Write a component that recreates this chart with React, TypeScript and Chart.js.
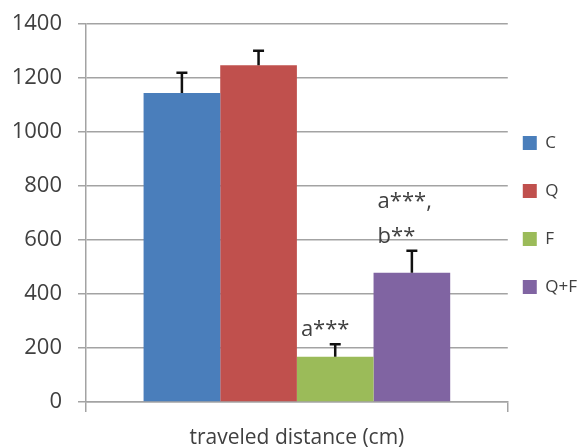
import React, { useEffect, useRef } from "react";
import { Chart, registerables } from "chart.js";

Chart.register(...registerables);

const categories = [""];
const seriesLabels = ["C", "Q", "F", "Q+F"];
const seriesValues = [1143, 1246, 167, 478];
const seriesErrors = [75, 53, 47, 81];
const seriesColors = ["#4a7ebb", "#c0504d", "#9bbb59", "#8064a2"];
const significance: string[][] = [[], [], ["a***"], ["a***,", "b**"]];
const yTicks = [0, 200, 400, 600, 800, 1000, 1200, 1400];
const xTitle = "traveled distance (cm)";

const FONT = "'Open Sans', sans-serif";
const TEXT = "#404040";
const GRID = "#a3a3a3";

const errorBarPlugin = {
  id: "errorBars",
  afterDatasetsDraw(chart: any) {
    const ctx = chart.ctx;
    const yScale = chart.scales.y;
    ctx.save();
    chart.data.datasets.forEach((ds: any, i: number) => {
      const meta = chart.getDatasetMeta(i);
      const el: any = meta.data[0];
      if (!el) return;
      const v = seriesValues[i];
      const e = seriesErrors[i];
      const yTop = yScale.getPixelForValue(v + e);
      const yBar = el.y;
      ctx.strokeStyle = "#111";
      ctx.lineWidth = 2.5;
      ctx.beginPath();
      ctx.moveTo(el.x, yBar);
      ctx.lineTo(el.x, yTop);
      ctx.moveTo(el.x - 5.5, yTop);
      ctx.lineTo(el.x + 5.5, yTop);
      ctx.stroke();
      const lines = significance[i];
      if (lines && lines.length) {
        ctx.fillStyle = TEXT;
        ctx.font = `22px ${FONT}`;
        ctx.textAlign = "left";
        ctx.textBaseline = "alphabetic";
        const left = el.x - el.width / 2 + 4;
        const n = lines.length;
        lines.forEach((t, k) => {
          ctx.fillText(t, left, yTop - 8 - (n - 1 - k) * 35);
        });
      }
    });
    ctx.restore();
  },
};

export default function App() {
  const ref = useRef<HTMLCanvasElement | null>(null);
  useEffect(() => {
    if (!ref.current) return;
    const chart = new Chart(ref.current, {
      type: "bar",
      data: {
        labels: categories,
        datasets: seriesLabels.map((label, i) => ({
          label,
          data: [seriesValues[i]],
          backgroundColor: seriesColors[i],
          borderWidth: 0,
          barPercentage: 1,
          categoryPercentage: 0.727,
        })),
      },
      options: {
        animation: false,
        responsive: false,
        maintainAspectRatio: false,
        layout: { padding: { left: 14, top: 23.5, right: -7, bottom: 0 } },
        plugins: {
          tooltip: { enabled: false },
          legend: {
            position: "right",
            align: "start",
            title: {
              display: true,
              text: "",
              padding: 0,
              font: { family: FONT, size: 10, lineHeight: "96px" } as any,
            },
            labels: {
              boxWidth: 14,
              boxHeight: 14,
              padding: 15,
              color: TEXT,
              font: { family: FONT, size: 17, lineHeight: "33px" } as any,
              generateLabels: (c: any) =>
                c.data.datasets.map((ds: any, i: number) => ({
                  text: [ds.label],
                  fillStyle: ds.backgroundColor,
                  strokeStyle: ds.backgroundColor,
                  lineWidth: 0,
                  hidden: false,
                  datasetIndex: i,
                  fontColor: TEXT,
                })),
            },
          },
        },
        scales: {
          x: {
            ticks: { display: false },
            grid: {
              drawOnChartArea: false,
              drawTicks: true,
              tickLength: 10,
              color: GRID,
              lineWidth: 1.5,
            },
            border: { display: true, color: GRID, width: 1.5 },
            title: {
              display: true,
              text: xTitle,
              color: TEXT,
              font: { family: FONT, size: 21, lineHeight: 1 },
              padding: { top: 16, bottom: -2 },
            },
          },
          y: {
            min: 0,
            max: 1400,
            afterBuildTicks: (axis: any) => {
              axis.ticks = yTicks.map((v) => ({ value: v }));
            },
            afterFit: (axis: any) => {
              axis.width = 72;
              axis.paddingTop = 0;
              axis.paddingBottom = 0;
            },
            ticks: {
              color: TEXT,
              padding: 16,
              font: { family: FONT, size: 22 },
              callback: (v: any) => String(v),
            },
            grid: {
              color: GRID,
              lineWidth: 1.5,
              tickLength: 8,
            },
            border: { display: true, color: GRID, width: 1.5 },
          },
        },
      },
      plugins: [errorBarPlugin],
    });
    return () => chart.destroy();
  }, []);
  return (
    <div style={{ position: "fixed", left: 0, top: 0, width: 580, height: 447, background: "#fff" }}>
      <canvas ref={ref} width={580} height={447} style={{ width: 580, height: 447 }} />
    </div>
  );
}
